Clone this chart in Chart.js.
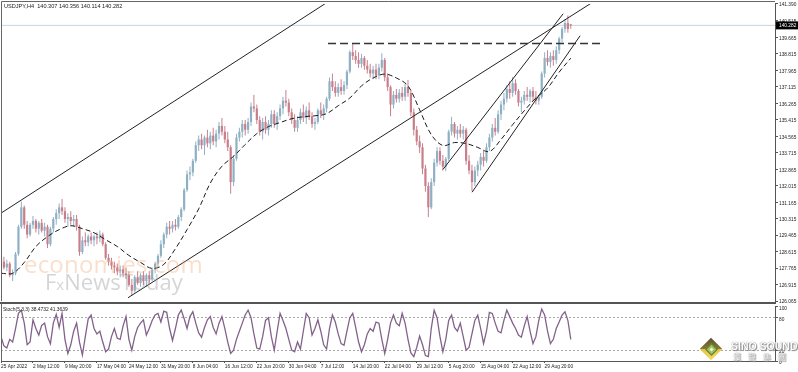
<!DOCTYPE html>
<html><head><meta charset="utf-8">
<script src="https://cdn.jsdelivr.net/npm/chart.js@4.4.1/dist/chart.umd.min.js"></script>
<style>
html,body{margin:0;padding:0;background:#fff;width:798px;height:372px;overflow:hidden;position:relative}
canvas{position:absolute;left:0}
#main{top:0}
#stoch{top:303px}
.t{position:absolute;white-space:nowrap;line-height:1}
#hdr{left:4px;top:3px;font:5.6px "Liberation Sans",sans-serif;color:#222}
#stl{left:3px;top:307px;font:4.9px "Liberation Sans",sans-serif;color:#222}
#eco{left:24px;top:247px;font:24px "Open Sans","Liberation Sans",sans-serif;color:rgba(242,170,120,0.38);letter-spacing:0.2px}
#fxn{left:45px;top:266px;font:22px "Open Sans","Liberation Sans",sans-serif;color:rgba(150,150,150,0.40)}
#sino{left:731px;top:340px;font:bold 10.5px "Liberation Sans",sans-serif;color:#fff;text-shadow:0 0 1px #666,1px 1px 1px #888}
#sinoc{left:733px;top:351px;font:8px "Noto Sans CJK TC","Noto Sans CJK SC",sans-serif;color:#fff;letter-spacing:7px;text-shadow:0 0 1px #666,1px 1px 1px #888}
</style></head><body>
<canvas id="main" width="798" height="305"></canvas>
<canvas id="stoch" width="798" height="69"></canvas>
<div class="t" id="hdr">USDJPY,H4&nbsp; 140.307 140.356 140.114 140.282</div>
<div class="t" id="stl">Stoch(5,3,3) 38.4732 41.3639</div>
<div class="t" id="eco">economies.com</div>
<div class="t" id="fxn">F<span style="font-size:15px">x</span>NewsToday</div>
<div style="position:absolute;left:700px;top:338px;width:22px;height:22px">
  <div style="position:absolute;left:3px;top:3px;width:16px;height:16px;transform:rotate(45deg);background:linear-gradient(135deg,#5a5030 0%,#877637 48%,#e6c640 52%,#f3da66 100%)"></div>
  <div style="position:absolute;left:6.5px;top:6.5px;width:7px;height:7px;transform:rotate(45deg);background:#9dc25e;border:1px solid #56782c"></div>
  <div style="position:absolute;left:9.5px;top:9.5px;width:3px;height:3px;transform:rotate(45deg);background:#f0f6d6"></div>
</div>
<div class="t" id="sino">SINO SOUND</div>
<div class="t" id="sinoc">漢聲集團</div>
<script>
// ---------- data ----------
const timeLabels = ["25 Apr 2022","2 May 12:00","9 May 20:00","17 May 04:00","24 May 12:00","31 May 20:00","8 Jun 04:00","16 Jun 12:00","22 Jun 20:00","30 Jun 04:00","7 Jul 12:00","14 Jul 20:00","22 Jul 04:00","29 Jul 12:00","5 Aug 20:00","15 Aug 04:00","22 Aug 12:00","29 Aug 20:00"];
const timeTickBars = [0,44,88,132,176,220,264,308,352,396,440,484,528,572,616,660,704,748];
const priceTicks = [126.065,126.915,127.765,128.615,129.465,130.315,131.165,132.015,132.865,133.715,134.565,135.415,136.265,137.115,137.965,138.815,139.665,140.515,141.390];
const stochTicks = [0,20,80,100];
const CANDLE_STEP = 4;   // H4 bars per drawn candle
const MA_STEP = 16;      // H4 bars between moving-average samples

const opens = [
128.3,128.1,127.8,128.0,127.4,127.5,128.5,129.9,130.9,130.0,
129.5,130.0,130.2,129.8,130.1,129.7,129.9,129.0,129.8,130.3,
130.6,130.9,130.7,130.3,130.4,130.2,130.3,129.9,128.6,129.2,
129.1,129.4,129.2,129.4,129.3,129.5,129.0,128.3,128.1,127.9,
127.8,127.6,127.7,127.5,127.4,126.9,126.6,127.3,127.0,127.4,
127.1,127.4,127.2,127.7,128.0,128.4,129.0,129.5,129.9,129.8,
130.0,129.9,130.4,130.8,131.8,132.6,132.7,133.3,134.1,134.4,
134.1,134.5,134.2,134.6,134.3,134.7,135.1,134.8,134.4,134.0,
132.2,133.4,134.5,134.8,135.2,134.9,135.3,136.1,136.0,135.4,
134.8,135.3,134.9,135.2,135.7,135.2,135.6,136.0,136.4,136.3,
135.8,135.4,135.0,135.4,135.8,135.5,135.9,135.6,135.2,135.3,
135.9,135.7,136.0,136.5,137.4,137.1,136.8,137.1,136.9,137.2,
137.9,138.9,138.7,138.5,138.3,138.6,138.2,138.0,137.8,138.0,
137.7,138.1,138.5,137.6,137.1,136.2,136.7,136.5,136.8,136.6,
137.1,136.8,135.8,134.9,134.3,134.0,132.9,132.0,130.9,132.2,
133.2,133.8,133.3,133.0,133.4,134.8,135.2,134.7,134.9,134.7,
134.9,133.3,132.8,132.2,132.8,133.1,133.5,133.3,134.0,134.5,
135.0,134.8,135.7,136.2,136.5,137.0,136.8,137.3,136.9,136.3,
136.4,136.7,136.6,136.9,136.6,136.4,136.6,137.8,138.6,138.4,
138.7,138.5,139.0,139.6,140.1,140.4,140.307];
const highs = [
128.5,128.35,128.2,128.1,127.7,128.6,130.0,131.2,131.0,130.2,
130.1,130.45,130.3,130.2,130.3,130.1,130.0,129.9,130.4,130.8,
131.1,131.33,130.9,130.6,130.7,130.5,130.5,130.0,129.4,129.6,
129.5,129.6,129.5,129.6,129.7,129.6,129.1,128.5,128.3,128.1,
128.0,127.9,127.9,127.8,127.6,127.2,127.4,127.6,127.5,127.6,
127.5,127.6,127.8,128.1,128.5,129.2,129.6,130.1,130.2,130.2,
130.3,130.5,130.9,131.9,132.8,133.0,133.4,134.3,134.6,134.7,
134.6,134.9,134.8,135.0,134.9,135.3,135.5,135.1,134.8,134.1,
133.6,134.7,135.0,135.4,135.4,135.5,136.3,136.7,136.2,135.6,
135.5,135.6,135.4,135.9,135.9,135.8,136.2,136.6,136.95,136.5,
136.0,135.7,135.6,136.0,136.2,136.1,136.3,135.8,135.5,136.0,
136.3,136.2,136.6,137.6,137.8,137.4,137.3,137.5,137.4,138.0,
139.0,139.36,139.0,138.9,138.8,138.7,138.5,138.3,138.2,138.3,
138.3,138.84,138.6,137.8,137.2,136.9,137.0,137.0,137.1,137.3,
137.46,136.9,136.0,135.1,134.6,134.2,133.1,132.2,132.4,133.4,
134.0,134.0,133.6,133.5,134.9,135.57,135.3,135.1,135.2,135.1,
135.0,133.6,133.1,133.0,133.3,133.7,133.8,134.2,134.7,135.2,
135.5,135.9,136.4,136.8,137.2,137.4,137.62,137.5,137.0,136.6,
136.9,137.1,137.0,137.1,136.9,136.7,137.9,138.9,139.0,138.9,
139.0,139.2,139.7,140.2,140.6,140.79,140.356];
const lows = [
128.0,127.7,127.6,127.3,127.1,127.4,128.4,129.8,129.8,129.3,
129.4,129.8,129.6,129.5,129.6,129.4,128.8,128.9,129.6,130.0,
130.3,130.5,130.1,129.9,130.0,129.9,129.7,128.4,128.5,128.9,
128.9,129.0,128.9,129.0,129.1,128.9,128.2,127.9,127.7,127.5,
127.4,127.3,127.3,127.2,126.8,126.37,126.5,126.9,126.8,126.9,
126.8,127.0,127.1,127.5,127.8,128.3,128.8,129.3,129.5,129.6,
129.7,129.8,130.2,130.7,131.7,132.3,132.5,133.2,133.8,133.9,
133.6,134.0,133.9,134.1,134.0,134.4,134.6,134.2,133.8,131.6,
132.0,133.3,134.3,134.5,134.6,134.7,135.1,135.8,135.2,134.6,
134.4,134.7,134.6,135.0,135.0,134.9,135.4,135.7,136.1,135.6,
135.2,134.8,134.8,135.2,135.3,135.2,135.4,135.0,134.9,135.2,
135.5,135.4,135.8,136.4,136.9,136.6,136.6,136.7,136.7,137.0,
137.8,138.5,138.3,138.1,138.1,138.0,137.8,137.6,137.5,137.5,
137.5,137.9,137.4,136.9,135.6,136.0,136.3,136.3,136.4,136.4,
136.6,135.6,134.6,134.1,133.7,132.6,131.7,130.4,130.8,132.0,
133.0,133.1,132.8,132.76,133.3,134.6,134.5,134.4,134.5,134.4,
133.1,132.6,131.74,132.0,132.5,132.8,133.0,133.2,133.8,134.3,
134.6,134.7,135.4,135.9,136.3,136.5,136.6,136.7,136.1,135.8,
136.2,136.4,136.3,136.4,136.2,136.19,136.5,137.6,138.2,138.1,
138.2,138.3,138.8,139.4,139.9,139.9,140.114];
const closes = [
128.1,127.8,128.0,127.4,127.5,128.5,129.9,130.9,130.0,129.5,
130.0,130.2,129.8,130.1,129.7,129.9,129.0,129.8,130.3,130.6,
130.9,130.7,130.3,130.4,130.2,130.3,129.9,128.6,129.2,129.1,
129.4,129.2,129.4,129.3,129.5,129.0,128.3,128.1,127.9,127.8,
127.6,127.7,127.5,127.4,126.9,126.6,127.3,127.0,127.4,127.1,
127.4,127.2,127.7,128.0,128.4,129.0,129.5,129.9,129.8,130.0,
129.9,130.4,130.8,131.8,132.6,132.7,133.3,134.1,134.4,134.1,
134.5,134.2,134.6,134.3,134.7,135.1,134.8,134.4,134.0,132.2,
133.4,134.5,134.8,135.2,134.9,135.3,136.1,136.0,135.4,134.8,
135.3,134.9,135.2,135.7,135.2,135.6,136.0,136.4,136.3,135.8,
135.4,135.0,135.4,135.8,135.5,135.9,135.6,135.2,135.3,135.9,
135.7,136.0,136.5,137.4,137.1,136.8,137.1,136.9,137.2,137.9,
138.9,138.7,138.5,138.3,138.6,138.2,138.0,137.8,138.0,137.7,
138.1,138.5,137.6,137.1,136.2,136.7,136.5,136.8,136.6,137.1,
136.8,135.8,134.9,134.3,134.0,132.9,132.0,130.9,132.2,133.2,
133.8,133.3,133.0,133.4,134.8,135.2,134.7,134.9,134.7,134.9,
133.3,132.8,132.2,132.8,133.1,133.5,133.3,134.0,134.5,135.0,
134.8,135.7,136.2,136.5,137.0,136.8,137.3,136.9,136.3,136.4,
136.7,136.6,136.9,136.6,136.4,136.6,137.8,138.6,138.4,138.7,
138.5,139.0,139.6,140.1,140.4,140.1,140.282];
const maValues = [
127.50,127.50,128.06,128.88,129.39,129.75,129.95,129.80,129.59,129.23,
128.88,128.42,128.06,127.75,127.96,128.77,129.75,130.82,132.15,133.02,
133.53,134.14,134.70,135.06,135.27,135.47,135.57,135.62,135.73,136.14,
136.54,137.16,137.57,137.77,137.57,137.16,135.93,134.65,134.09,134.24,
134.19,133.99,133.78,134.40,135.16,135.88,136.54,137.05,137.87,138.59];
const stochValues = [
45,28,24,40,35,60,88,94,70,30,
35,76,60,48,66,70,45,32,70,86,
62,88,40,14,30,55,70,35,11,45,
78,85,60,50,55,35,17,22,45,60,
42,40,65,82,40,20,45,62,70,76,
48,60,75,85,88,72,92,90,60,38,
60,85,94,78,60,82,91,70,52,44,
62,76,82,62,50,70,82,60,35,14,
20,40,55,70,85,94,80,50,24,22,
45,75,80,45,20,55,88,75,60,40,
20,17,35,22,55,88,80,48,60,76,
55,30,22,60,85,72,50,32,29,55,
80,88,62,35,17,30,50,60,55,72,
70,40,14,40,70,85,70,65,88,70,
40,15,8,25,46,30,10,8,60,94,
80,45,17,40,75,85,62,55,70,45,
20,25,50,75,85,60,32,55,90,88,
70,55,52,75,94,82,70,60,48,44,
65,82,55,32,45,75,96,85,55,32,
40,60,72,85,91,75,40];
// drawn objects: [bar, price] endpoints
const channelUpper = [[0,130.60],[466.6,141.90]];
const channelLower = [[174.8,126.24],[824.4,141.72]];
const wedgeUpper   = [[608.3,132.86],[773.5,140.88]];
const wedgeLower   = [[648.2,131.68],[796.9,139.75]];
const resistance   = [[450,139.35],[825.8,139.35]];
const lastPrice = 140.282;

// ---------- styles ----------
const X_MIN = 0, X_MAX = 1065;
const UP = '#8fb0c4', DOWN = '#c97f8b';
const AXIS_FONT = '"Liberation Sans",sans-serif';
Chart.defaults.font.family = AXIS_FONT;
Chart.defaults.font.size = 4.8;
Chart.defaults.color = '#222';
Chart.defaults.animation = false;

const candleBars = opens.map((_, i) => i * CANDLE_STEP);
const candleColors = closes.map((c, i) => c >= opens[i] ? UP : DOWN);
const wickData = candleBars.map((b, i) => ({x: b, y: [lows[i], highs[i]]}));
const bodyData = candleBars.map((b, i) => ({x: b, y: [opens[i], closes[i]]}));
const maData = maValues.map((v, j) => ({x: j * MA_STEP, y: v}));
const stochData = stochValues.map((v, i) => ({x: i * CANDLE_STEP, y: v}));
const seg = a => a.map(p => ({x: p[0], y: p[1]}));

const lineDs = (data, color, width, dash, order) => ({
  type: 'line', data, borderColor: color, borderWidth: width, borderDash: dash || [],
  pointRadius: 0, fill: false, tension: 0, order
});

const framePlugin = {
  id: 'frame',
  afterDraw(c, args, o) {
    const ctx = c.ctx, a = c.chartArea;
    ctx.save();
    ctx.strokeStyle = '#666'; ctx.lineWidth = 1;
    ctx.beginPath();
    ctx.moveTo(1.5, o.top ? 1.5 : 0); ctx.lineTo(1.5, a.bottom);
    if (o.top) { ctx.moveTo(1.5, 1.5); ctx.lineTo(a.right, 1.5); }
    ctx.stroke();
    if (o.sep) { ctx.fillStyle = '#555'; ctx.fillRect(0, 302, a.right + 1, 2); }
    if (o.box) {
      const y = c.scales.y.getPixelForValue(lastPrice);
      ctx.fillStyle = '#000'; ctx.fillRect(a.right + 1, y - 4, 798 - a.right - 1, 8);
      ctx.fillStyle = '#fff'; ctx.font = '4.8px ' + AXIS_FONT; ctx.textBaseline = 'middle';
      ctx.fillText(lastPrice.toFixed(3), a.right + 4, y + 0.5);
    }
    ctx.restore();
  }
};

new Chart(document.getElementById('main'), {
  type: 'bar',
  data: { datasets: [
    lineDs([{x: X_MIN, y: lastPrice}, {x: X_MAX, y: lastPrice}], '#c3d5de', 1, null, 9),
    { type: 'bar', data: wickData, backgroundColor: candleColors, barThickness: 1, grouped: false, inflateAmount: 0, order: 8 },
    { type: 'bar', data: bodyData, backgroundColor: candleColors, barThickness: 2.2, grouped: false, inflateAmount: 0, minBarLength: 1, order: 7 },
    Object.assign(lineDs(maData, '#1a1a1a', 1, [5, 3], 3), {tension: 0.35}),
    lineDs(seg(channelUpper), '#222', 1, null, 2),
    lineDs(seg(channelLower), '#222', 1, null, 2),
    lineDs(seg(wedgeUpper), '#222', 1, null, 2),
    lineDs(seg(wedgeLower), '#222', 1, null, 2),
    lineDs(seg(resistance), '#333', 1.5, [8, 4], 1)
  ]},
  options: {
    responsive: false, devicePixelRatio: 1,
    layout: { padding: {left: 1, right: 0, top: 3, bottom: 2} },
    plugins: { legend: {display: false}, tooltip: {enabled: false}, frame: {top: true, sep: true, box: true} },
    scales: {
      x: { type: 'linear', min: X_MIN, max: X_MAX, offset: false, display: false },
      y: { type: 'linear', position: 'right', min: 126.065, max: 141.39,
        afterBuildTicks: s => { s.ticks = priceTicks.map(v => ({value: v})); },
        afterFit: s => { s.width = 23; },
        ticks: { callback: v => Number(v).toFixed(3), padding: 1, autoSkip: false, labelOffset: 1, color: '#222' },
        grid: { drawOnChartArea: false, tickLength: 3, color: '#555' },
        border: { display: true, color: '#555', width: 1 } }
    }
  },
  plugins: [framePlugin]
});

new Chart(document.getElementById('stoch'), {
  type: 'line',
  data: { datasets: [ lineDs(stochData, '#82628a', 1.3, null, 1) ] },
  options: {
    responsive: false, devicePixelRatio: 1,
    layout: { padding: {left: 1, right: 0, top: 2, bottom: 0} },
    plugins: { legend: {display: false}, tooltip: {enabled: false}, frame: {top: false} },
    scales: {
      x: { type: 'linear', min: X_MIN, max: X_MAX, offset: false,
        afterBuildTicks: s => { s.ticks = timeTickBars.map(v => ({value: v})); },
        afterFit: s => { s.height = 11; },
        ticks: { callback: (v, i) => timeLabels[i], align: 'start', maxRotation: 0, autoSkip: false, padding: 1, color: '#222' },
        grid: { drawOnChartArea: false, tickLength: 2, color: '#555' },
        border: { display: true, color: '#555', width: 1 } },
      y: { type: 'linear', position: 'right', min: 0, max: 100,
        afterBuildTicks: s => { s.ticks = stochTicks.map(v => ({value: v})); },
        afterFit: s => { s.width = 23; },
        ticks: { callback: v => String(v), padding: 1, autoSkip: false, labelOffset: 1.5, color: '#222' },
        grid: { drawOnChartArea: true, tickLength: 3,
          color: c => (c.tick && (c.tick.value === 20 || c.tick.value === 80)) ? '#a8a8a8' : 'rgba(0,0,0,0)',
          tickColor: '#555' },
        border: { display: true, color: '#555', width: 1, dash: [2, 2] } }
    }
  },
  plugins: [framePlugin]
});
</script>
</body></html>
